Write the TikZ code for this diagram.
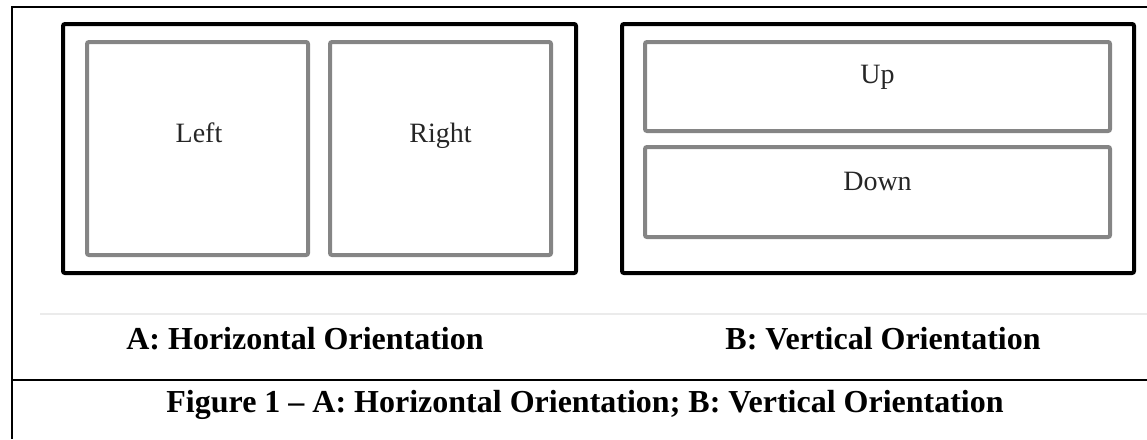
\documentclass[tikz,border=0pt]{standalone}
\usepackage{fontspec}
\setmainfont{Liberation Serif}
\usepackage{tikz}
\usetikzlibrary{positioning}
\definecolor{cellgray}{HTML}{858585}
\definecolor{rulegray}{HTML}{EBEBEB}

\begin{document}
\begin{tikzpicture}[
    x=1pt, y=-1pt,
    panel/.style={rectangle, draw=black, line width=4pt, rounded corners=2pt,
                  inner sep=0pt, outer sep=0pt},
    cell/.style={rectangle, draw=cellgray, line width=4pt, rounded corners=2pt,
                 inner sep=0pt, outer sep=0pt},
    celltext/.style={anchor=base, inner sep=0pt, text=black!85,
                     font=\fontsize{28}{34}\selectfont},
    caption/.style={anchor=base, inner sep=0pt,
                    font=\fontsize{32}{38}\selectfont\bfseries}
  ]
  \useasboundingbox (0,0) rectangle (1147,439);

  %% Frame lines
  \draw[line width=2.5pt] (1147,7) -- (12,7) -- (12,439);
  \draw[line width=2.5pt] (12,380) -- (1147,380);
  \draw[rulegray, line width=2pt] (40,314) -- (1147,314);

  %% A: left and right cells
  \node[panel, minimum width=513pt, minimum height=249pt] (panelA) at (319.5,148.5) {};
  \node[cell, minimum width=221pt, minimum height=213pt] (left) at (197.5,148.5) {};
  \node[cell, minimum width=221pt, minimum height=213pt] (right) at (440.5,148.5) {};
  \node[celltext] at ([xshift=1.5pt, yshift=-100pt]left.north) {Left};
  \node[celltext] at ([yshift=-100pt]right.north) {Right};

  %% B: up and down cells
  \node[panel, minimum width=512pt, minimum height=249pt] (panelB) at (878,148.5) {};
  \node[cell, minimum width=465pt, minimum height=89pt] (up) at (877.5,86.5) {};
  \node[cell, minimum width=465pt, minimum height=90pt] (down) at (877.5,192) {};
  \node[celltext] at ([yshift=-41pt]up.north) {Up};
  \node[celltext] at ([yshift=-43pt]down.north) {Down};

  %% Captions
  \node[caption] (capA) at (305,349) {A: Horizontal Orientation};
  \node[caption] (capB) at (883,349) {B: Vertical Orientation};
  \node[caption] (figcap) at (585,412)
        {Figure 1 -- A: Horizontal Orientation; B: Vertical Orientation};

\end{tikzpicture}
\end{document}
